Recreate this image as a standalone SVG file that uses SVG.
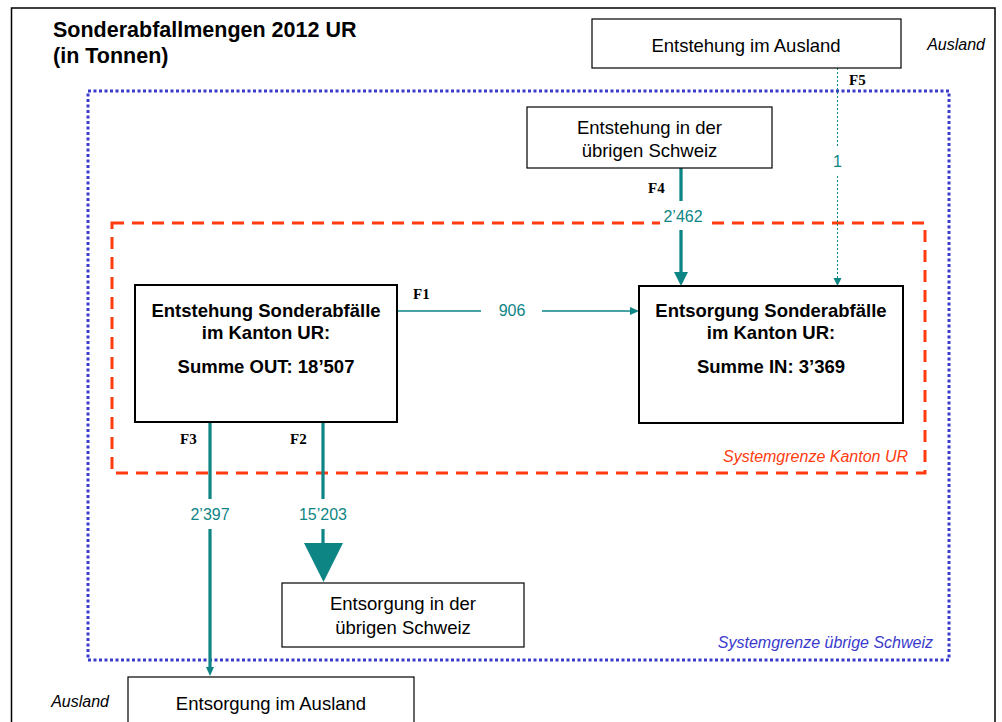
<svg xmlns="http://www.w3.org/2000/svg" width="1002" height="722" viewBox="0 0 1002 722">
<style>
.box{fill:#fff;stroke:#000;stroke-width:1.2}
.bbox{fill:#fff;stroke:#000;stroke-width:2}
.t{font-family:"Liberation Sans",Arial,sans-serif;font-size:18.5px;fill:#000;text-anchor:middle}
.tb{font-family:"Liberation Sans",Arial,sans-serif;font-size:18.5px;font-weight:bold;fill:#000;text-anchor:middle}
.f{font-family:"Liberation Serif","Times New Roman",serif;font-size:15px;font-weight:bold;fill:#000}
.v{font-family:"Liberation Sans",Arial,sans-serif;font-size:16px;fill:#0e8585;text-anchor:middle}
.it{font-family:"Liberation Sans",Arial,sans-serif;font-style:italic;font-size:16px}
.c{stroke:#0e8585;fill:none}
.ah{fill:#0e8585}
</style>
<rect x="0" y="0" width="1002" height="722" fill="#fff"/>
<rect x="11.5" y="8" width="983.5" height="730" fill="none" stroke="#000" stroke-width="1.5"/>
<text x="53" y="37" font-family="Liberation Sans,Arial,sans-serif" font-size="21.5" font-weight="bold">Sonderabfallmengen 2012 UR</text>
<text x="53" y="63" font-family="Liberation Sans,Arial,sans-serif" font-size="21.5" font-weight="bold">(in Tonnen)</text>

<g id="systemgrenze-schweiz">
<rect x="88" y="91" width="861" height="569" fill="none" stroke="#3a3acc" stroke-width="3" stroke-dasharray="3 2.5"/>
<text class="it" x="933" y="648" fill="#3a3acc" text-anchor="end">Systemgrenze übrige Schweiz</text>
</g>
<g id="systemgrenze-ur">
<rect x="112" y="223" width="813" height="250" fill="none" stroke="#ff3b0f" stroke-width="3" stroke-dasharray="12 8"/>
<text class="it" x="908" y="462" fill="#ff3b0f" text-anchor="end" font-size="15">Systemgrenze Kanton UR</text>
</g>
<text class="it" x="985" y="50" fill="#000" text-anchor="end">Ausland</text>
<text class="it" x="109" y="707" fill="#000" text-anchor="end">Ausland</text>

<g id="connectors">
<!-- F1 -->
<line class="c" x1="397" y1="311" x2="481" y2="311" stroke-width="1.5"/>
<line class="c" x1="542" y1="311" x2="631" y2="311" stroke-width="1.5"/>
<polygon class="ah" points="639,311 630,307 630,315"/>
<text class="f" x="413" y="299">F1</text>
<text class="v" x="512" y="316">906</text>
<!-- F4 -->
<line class="c" x1="681" y1="168" x2="681" y2="273" stroke-width="3.3"/>
<rect x="660" y="201" width="46" height="29" fill="#fff"/>
<polygon class="ah" points="674,272 688,272 681,286"/>
<text class="f" x="648" y="193">F4</text>
<text class="v" x="683" y="222">2’462</text>
<!-- F5 -->
<line class="c" x1="837.5" y1="68" x2="837.5" y2="279" stroke-width="1" stroke-dasharray="2 2"/>
<rect x="829" y="146" width="17" height="30" fill="#fff"/>
<polygon class="ah" points="833.5,278 841.5,278 837.5,286"/>
<text class="f" x="849" y="85">F5</text>
<text class="v" x="837.5" y="167">1</text>
<!-- F3 -->
<line class="c" x1="210" y1="423" x2="210" y2="668" stroke-width="3.2"/>
<rect x="185" y="499" width="50" height="30" fill="#fff"/>
<polygon class="ah" points="206,667 214,667 210,676"/>
<text class="f" x="180" y="444">F3</text>
<text class="v" x="210" y="520">2’397</text>
<!-- F2 -->
<line class="c" x1="323" y1="423" x2="323" y2="545" stroke-width="3.2"/>
<rect x="293" y="499" width="60" height="30" fill="#fff"/>
<polygon class="ah" points="304,543 343,543 323.5,582"/>
<text class="f" x="290" y="444">F2</text>
<text class="v" x="323" y="520">15’203</text>
</g>

<g id="n-entstehung-ausland">
<rect class="box" x="592" y="19" width="309" height="49"/>
<text class="t" x="746" y="52">Entstehung im Ausland</text>
</g>
<g id="n-entstehung-schweiz">
<rect class="box" x="527" y="107" width="245" height="61"/>
<text class="t" x="649.5" y="134">Entstehung in der</text>
<text class="t" x="649.5" y="157">übrigen Schweiz</text>
</g>
<g id="n-entstehung-ur">
<rect class="bbox" x="135" y="285" width="262" height="137"/>
<text class="tb" x="266" y="317">Entstehung Sonderabfälle</text>
<text class="tb" x="266" y="339">im Kanton UR:</text>
<text class="tb" x="266" y="373">Summe OUT: 18’507</text>
</g>
<g id="n-entsorgung-ur">
<rect class="bbox" x="639" y="286" width="264" height="137"/>
<text class="tb" x="771" y="317">Entsorgung Sonderabfälle</text>
<text class="tb" x="771" y="339">im Kanton UR:</text>
<text class="tb" x="771" y="373">Summe IN: 3’369</text>
</g>
<g id="n-entsorgung-schweiz">
<rect class="box" x="282" y="583" width="242" height="64"/>
<text class="t" x="403" y="610">Entsorgung in der</text>
<text class="t" x="403" y="634">übrigen Schweiz</text>
</g>
<g id="n-entsorgung-ausland">
<rect class="box" x="128" y="677" width="286" height="60"/>
<text class="t" x="271" y="710">Entsorgung im Ausland</text>
</g>
</svg>
